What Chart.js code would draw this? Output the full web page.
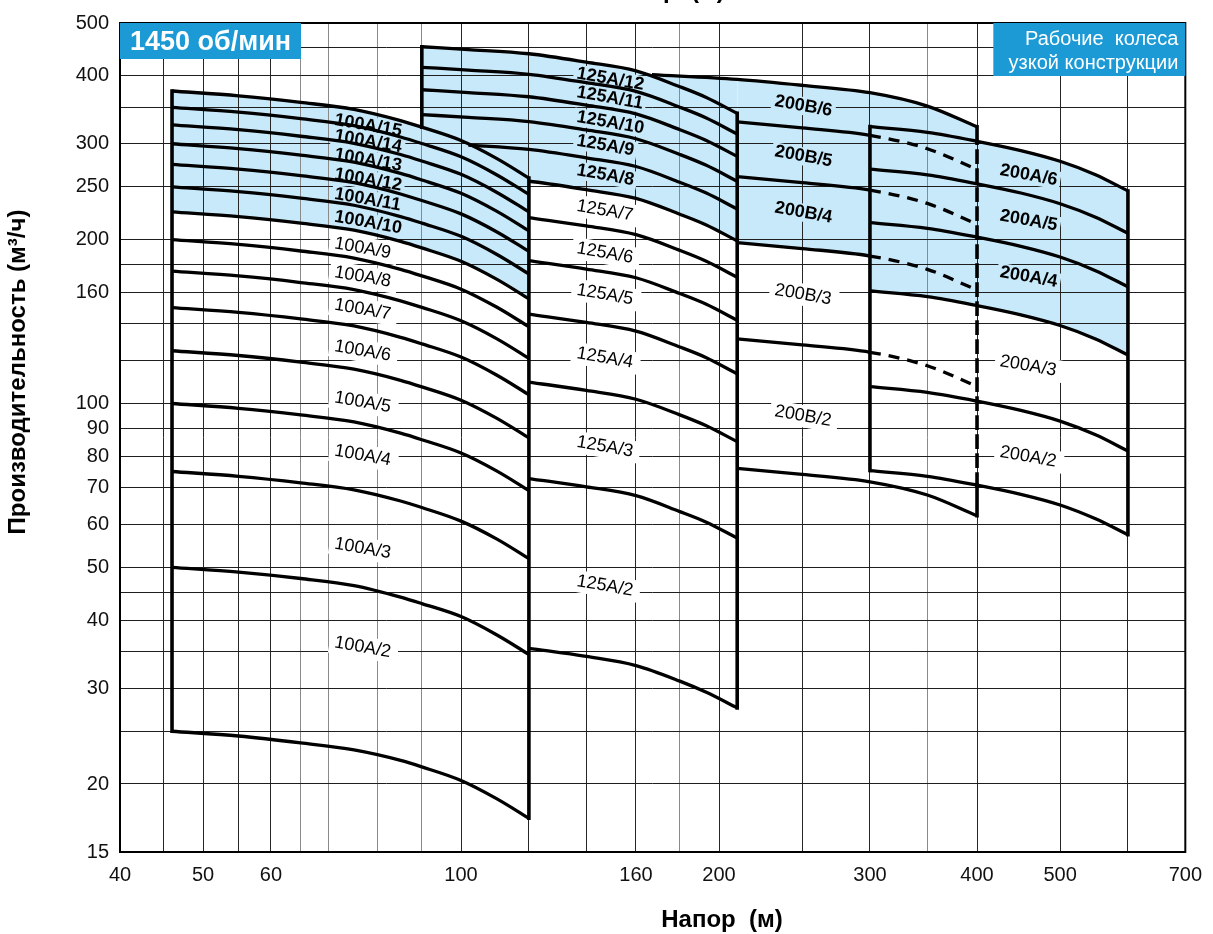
<!DOCTYPE html>
<html><head><meta charset="utf-8">
<script src="https://cdn.jsdelivr.net/npm/chart.js@4.4.1/dist/chart.umd.min.js"></script>
<style>html,body{margin:0;padding:0;background:#fff;}#wrap{width:1213px;height:934px;position:relative;}</style>
</head><body><div id="wrap"><canvas id="c"></canvas></div>
<script>
// ---------- axes ----------
const xGrid = [40,45,50,55,60,65,70,80,90,100,120,140,160,180,200,250,300,350,400,500,600,700];
const xTickLabels = [40,50,60,100,160,200,300,400,500,700];
const yGrid = [15,20,25,30,35,40,45,50,60,70,80,90,100,120,140,160,180,200,250,300,350,400,450,500];
const yTickLabels = [15,20,30,40,50,60,70,80,90,100,160,200,250,300,400,500];

// ---------- 100A family (head H, flow Q per boundary curve) ----------
const H100A = [46,55,65,75,85,90,100,110,120];
const Q100A = [
  [25,24.5,23.8,23.1,22.1,21.5,20.3,18.8,17.3],
  [50,49,47.7,46.3,44.1,42.9,40.6,37.6,34.6],
  [75,73.5,71.5,69.4,66.2,64.4,60.8,56.4,51.9],
  [100,98,95.3,92.5,88.2,85.8,81.1,75.2,69.2],
  [125,122.5,119.1,115.6,110.3,107.3,101.4,94,86.5],
  [150,147,143,138.8,132.3,128.7,121.7,112.8,103.8],
  [175,171.5,166.8,161.9,154.4,150.2,141.9,131.6,121.1],
  [200,196,190.6,185,176.4,171.6,162.2,150.4,138.4],
  [225,220.5,214.4,208.1,198.5,193.1,182.5,169.2,155.7],
  [250,245,238.3,231.3,220.5,214.5,202.8,188,173],
  [275,269.5,262.1,254.4,242.6,236,223,206.8,190.3],
  [300,294,285.9,277.5,264.6,257.4,243.3,225.6,207.6],
  [325,318.5,309.7,300.6,286.7,278.9,263.6,244.4,224.9],
  [350,343,333.6,323.8,308.7,300.3,283.9,263.2,242.2],
  [375,367.5,357.4,346.9,330.8,321.8,304.1,282,259.5]
];
// ---------- 125A family ----------
const H125A = [90,102,120,140,160,180,193,210];
const Q125A = [
  [null,null,35.5,34.3,33.0,30.9,29.5,27.6],
  [null,null,72.8,70.3,67.7,63.3,60.6,56.6],
  [null,null,109.5,105.7,101.8,95.3,91.1,85.1],
  [null,null,146,140.9,135.8,127,121.5,113.4],
  [null,null,183,176.6,170.2,159.2,152.3,142.2],
  [null,null,219.6,211.9,204.2,191.1,182.7,170.6],
  [263.7,260.6,256,247,238.1,222.7,213,198.9],
  [301.8,298.3,293,282.7,272.5,254.9,243.8,227.7],
  [339.4,335.4,329.5,318,306.4,286.7,274.1,256],
  [377,372.6,366,353.2,340.4,318.4,304.5,284.4],
  [414.6,409.7,402.5,388.4,374.3,350.2,334.9,312.7],
  [452.2,446.9,439,423.6,408.3,381.9,365.2,341.1]
];
// ---------- 200B family ----------
const H200B = [167,210,250,300,350,400];
const Q200B = [
  [null,76,74.1,71.8,67.9,62.2],
  [null,131.4,128.1,124.2,117.3,107.5],
  [null,197.5,192.6,186.6,176.4,161.6],
  [null,261,254.5,246.6,233.1,213.5],
  [null,329,320.8,310.9,293.8,269.1],
  [402,394,384.2,372.3,351.8,322.3]
];
// ---------- 200A family ----------
const H200A = [300,350,400,450,500,550,600];
const Q200A = [
  [75.3,73.5,70.8,68.1,65.1,61.4,57.4],
  [107.4,104.8,101,97.1,92.8,87.6,81.8],
  [161,157.1,151.3,145.5,139.1,131.4,122.7],
  [215,209.8,202.1,194.4,185.8,175.4,163.8],
  [269.5,263,253.3,243.6,232.8,219.9,205.4],
  [322.5,314.8,303.2,291.5,278.6,263.2,245.7]
];

// ---------- field labels ----------
const lab100A = ['100A/2','100A/3','100A/4','100A/5','100A/6','100A/7','100A/8','100A/9','100A/10','100A/11','100A/12','100A/13','100A/14','100A/15'];
const labQ100A = [36.4,55.3,81.9,102.6,127.5,151.9,174.4,196.9,220.4,242.7,263.9,286.9,310.6,332];
const labH100A = 71.2;
const lab125A = ['125A/2','125A/3','125A/4','125A/5','125A/6','125A/7','125A/8','125A/9','125A/10','125A/11','125A/12'];
const labQ125A = [47.2,85,123.8,161.8,192.9,230.8,268.3,304.1,336.2,373.2,404];
const labH125A = 136.5;
const lab200B = ['200B/2','200B/3','200B/4','200B/5','200B/6'];
const labQ200B = [96.8,161.8,228.9,290.4,359.4];
const labH200B = 232.4;
const lab200A = ['200A/2','200A/3','200A/4','200A/5','200A/6'];
const labQ200A = [81.5,119.7,174.4,221.4,268.3];
const labH200A = 425.6;
const boldFrom = {'100A':10,'125A':8,'200B':4,'200A':4};

// ---------- styling ----------
const BLUE = '#c8e9f9';
const HEAD = '#1b9ad6';
const FONT = '"Liberation Sans", Arial, Helvetica, sans-serif';
const CLEAR = 'rgba(0,0,0,0)';
const DASH = [11,8];

const datasets = [];
function addLine(xs, ys, extra) {
  const d = Object.assign({
    data: xs.map((x, i) => ({x: x, y: ys[i]})),
    borderColor: '#000', borderWidth: 3.3, pointRadius: 0, pointHoverRadius: 0, pointHitRadius: 0,
    cubicInterpolationMode: 'monotone', fill: false, backgroundColor: BLUE,
    borderCapStyle: 'butt', borderJoinStyle: 'round', spanGaps: false
  }, extra || {});
  datasets.push(d);
  return datasets.length - 1;
}
function addEdge(x, ys, extra) {
  return addLine(ys.map(() => x), ys, Object.assign({cubicInterpolationMode: 'default', tension: 0, borderWidth: 3.6, borderCapStyle: 'square'}, extra || {}));
}

// 100A
const i100 = Q100A.map(q => addLine(H100A, q));
// 125A
const i125 = Q125A.map((q, k) => {
  let seg;
  if (k === 6) seg = {borderColor: c => (c.p1.parsed.x <= 120 ? CLEAR : undefined)};
  if (k === 7) seg = {borderColor: c => (c.p1.parsed.x <= 102 ? CLEAR : undefined)};
  return addLine(H125A, q, seg ? {segment: seg} : {});
});
// 200B
const i200B = Q200B.map((q, k) => {
  const ex = {};
  if (k >= 1 && k <= 4) ex.segment = {borderDash: c => (c.p0.parsed.x >= 300 ? DASH : undefined)};
  return addLine(H200B, q, ex);
});
// 200A
const i200A = Q200A.map(q => addLine(H200A, q));

// fills (narrow-impeller areas)
datasets[i100[8]].fill = i100[14];
datasets[i125[6]].fill = i125[11];
datasets[i200B[2]].fill = i200B[5];
datasets[i200B[5]].fill = i125[11];
datasets[i200A[2]].fill = i200A[5];

// family edges
const last = a => a[a.length - 1];
addEdge(H100A[0], [Q100A[0][0], Q100A[14][0]]);
addEdge(last(H100A), [last(Q100A[0]), last(Q100A[14])]);
addEdge(H125A[0], [Q100A[14][5], Q125A[11][0]]);
addEdge(last(H125A), [last(Q125A[0]), last(Q125A[11])]);
addEdge(last(H200B), [last(Q200B[0]), Q200A[0][2], Q200A[5][2], last(Q200B[5])],
  {segment: {borderDash: c => (c.p0DataIndex === 1 ? DASH : undefined)}});
addEdge(H200A[0], [Q200A[0][0], Q200A[5][0]]);
addEdge(last(H200A), [last(Q200A[0]), last(Q200A[5])]);

// label list
const allLabels = [];
function pushLabels(fam, names, qs, h) {
  names.forEach((t, i) => {
    const n = parseInt(t.split('/')[1], 10);
    allLabels.push({t: t, h: h, q: qs[i], bold: n >= boldFrom[fam]});
  });
}
pushLabels('100A', lab100A, labQ100A, labH100A);
pushLabels('125A', lab125A, labQ125A, labH125A);
pushLabels('200B', lab200B, labQ200B, labH200B);
pushLabels('200A', lab200A, labQ200A, labH200A);

const ROT = 10 * Math.PI / 180;
const grayX = [65,70,80,90,180,350];

const decor = {
  id: 'decor',
  beforeDatasetsDraw(chart) {
    const {ctx, chartArea: a, scales} = chart;
    ctx.save();
    ctx.beginPath(); ctx.rect(a.left, a.top, a.right - a.left, a.bottom - a.top); ctx.clip();
    for (const L of allLabels) {
      const px = scales.x.getPixelForValue(L.h), py = scales.y.getPixelForValue(L.q);
      ctx.save();
      ctx.translate(px, py); ctx.rotate(ROT);
      ctx.font = (L.bold ? 'bold ' : '') + '18px ' + FONT;
      const w = ctx.measureText(L.t).width;
      ctx.fillStyle = L.bold ? BLUE : '#fff';
      if (L.bold) ctx.fillRect(-3, -9, w + 6, 18); else ctx.fillRect(-5, -11, w + 12, 22);
      ctx.restore();
    }
    ctx.restore();
    ctx.save();
    ctx.strokeStyle = '#000'; ctx.lineWidth = 2;
    ctx.strokeRect(a.left, a.top, a.right - a.left, a.bottom - a.top);
    ctx.restore();
  },
  afterDatasetsDraw(chart) {
    const {ctx, scales} = chart;
    ctx.save();
    ctx.fillStyle = '#000'; ctx.textAlign = 'left'; ctx.textBaseline = 'middle';
    for (const L of allLabels) {
      const px = scales.x.getPixelForValue(L.h), py = scales.y.getPixelForValue(L.q);
      ctx.save();
      ctx.translate(px, py); ctx.rotate(ROT);
      ctx.font = (L.bold ? 'bold ' : '') + '18px ' + FONT;
      ctx.fillText(L.t, 0, 0);
      ctx.restore();
    }
    ctx.restore();
  },
  afterDraw(chart) {
    const {ctx, chartArea: a} = chart;
    ctx.save();
    // header boxes
    ctx.fillStyle = HEAD;
    ctx.fillRect(a.left, a.top, 181, 36);
    ctx.fillRect(a.right - 192, a.top, 192, 53);
    ctx.fillStyle = '#fff';
    ctx.textBaseline = 'alphabetic';
    ctx.font = 'bold 27px ' + FONT; ctx.textAlign = 'left';
    ctx.fillText('1450 об/мин', a.left + 10, a.top + 27);
    ctx.font = '20px ' + FONT; ctx.textAlign = 'right';
    ctx.fillText('Рабочие  колеса', a.right - 7, a.top + 22);
    ctx.fillText('узкой конструкции', a.right - 7, a.top + 46);
    // axis titles
    ctx.fillStyle = '#000';
    ctx.font = 'bold 24px ' + FONT; ctx.textAlign = 'center';
    ctx.fillText('Напор  (м)', 722, 927);
    ctx.fillText('Напор  (м)', 664, -2);
    ctx.save();
    ctx.translate(25, 372); ctx.rotate(-Math.PI / 2);
    ctx.fillText('Производительность (м³/ч)', 0, 0);
    ctx.restore();
    ctx.restore();
  }
};

Chart.defaults.font.family = FONT;
new Chart(document.getElementById('c'), {
  type: 'line',
  data: {datasets: datasets},
  options: {
    responsive: true, maintainAspectRatio: false, animation: false, events: [],
    layout: {padding: {top: 13, right: 24, bottom: 0, left: 0}},
    plugins: {legend: {display: false}, tooltip: {enabled: false}, filler: {drawTime: 'beforeDraw'}},
    scales: {
      x: {
        type: 'logarithmic', min: 40, max: 700,
        afterBuildTicks: s => { s.ticks = xGrid.map(v => ({value: v})); },
        afterFit: s => { s.height = 82; },
        ticks: {autoSkip: false, maxRotation: 0, padding: 11, color: '#111', font: {size: 20},
          callback: v => (xTickLabels.includes(v) ? String(v) : '')},
        grid: {drawTicks: false, lineWidth: 1, color: c => (grayX.includes(c.tick && c.tick.value) ? '#8a8a8a' : '#262626')},
        border: {display: false}
      },
      y: {
        type: 'logarithmic', min: 15, max: 500,
        afterBuildTicks: s => { s.ticks = yGrid.map(v => ({value: v})); },
        afterFit: s => { s.width = 120; },
        ticks: {autoSkip: false, padding: 11, color: '#111', font: {size: 20},
          callback: v => (yTickLabels.includes(v) ? String(v) : '')},
        grid: {drawTicks: false, lineWidth: 1, color: '#1e1e1e'},
        border: {display: false}
      }
    }
  },
  plugins: [decor]
});
</script></body></html>
